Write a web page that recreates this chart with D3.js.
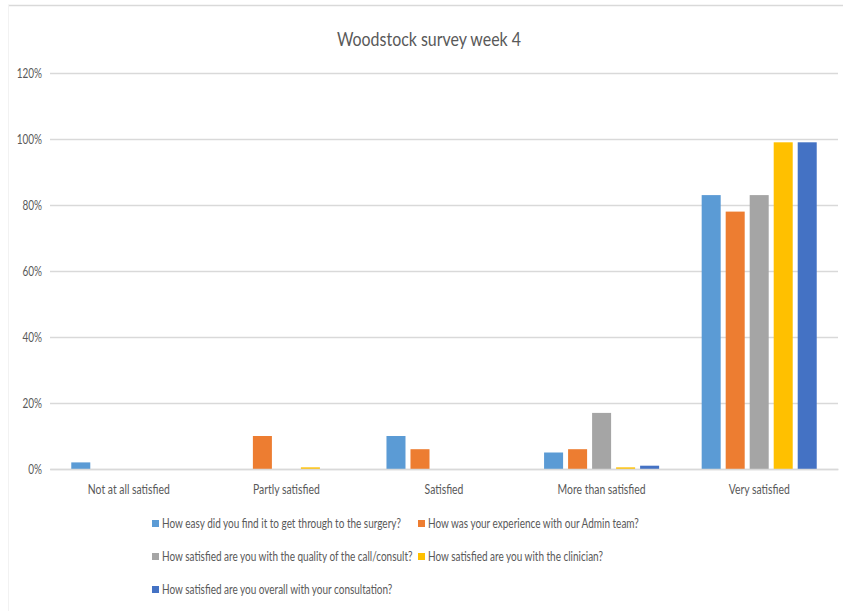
<!DOCTYPE html>
<html>
<head>
<meta charset="utf-8">
<script src="https://cdn.jsdelivr.net/npm/d3@7"></script>
<style>
  html, body { margin: 0; padding: 0; background: #fff; }
  svg { display: block; }
  text { font-family: Lato, Roboto, "Open Sans", sans-serif; fill: #595959; }
</style>
</head>
<body>
<svg id="chart" width="843" height="611"></svg>
<script>
// Survey responses by satisfaction level (percent of respondents)
const categories = ["Not at all satisfied", "Partly satisfied", "Satisfied", "More than satisfied", "Very satisfied"];
const seriesNames = [
  "How easy did you find it to get through to the surgery?",
  "How was your experience with our Admin team?",
  "How satisfied are you with the quality of the call/consult?",
  "How satisfied are you with the clinician?",
  "How satisfied are you overall with your consultation?"
];
const gettingThrough = [2, 0, 10, 5, 83];
const adminTeam      = [0, 10, 6, 6, 78];
const callQuality    = [0, 0, 0, 17, 83];
const clinician      = [0, 0.5, 0, 0.5, 99];
const overall        = [0, 0, 0, 1, 99];
const yTicks = [0, 20, 40, 60, 80, 100, 120];
const colors = ["#5B9BD5", "#ED7D31", "#A5A5A5", "#FFC000", "#4472C4"];

const seriesValues = [gettingThrough, adminTeam, callQuality, clinician, overall];

// condense text horizontally around its anchor point (Calibri-like proportions)
function narrow(sel, k = 0.8) {
  sel.each(function () {
    const t = d3.select(this);
    const ax = +t.attr("x") || 0;
    t.attr("transform", `translate(${ax * (1 - k)},0) scale(${k},1)`);
  });
}

const svg = d3.select("#chart");

// chart frame
svg.append("line").attr("x1", 8).attr("x2", 843).attr("y1", 5.5).attr("y2", 5.5)
  .attr("stroke", "#d9d9d9").attr("stroke-width", 1.5);
svg.append("line").attr("x1", 8.5).attr("x2", 8.5).attr("y1", 5).attr("y2", 611)
  .attr("stroke", "#f2f2f2").attr("stroke-width", 1);

// title
svg.append("text").attr("x", 429).attr("y", 46).attr("text-anchor", "middle")
  .style("font-size", "19px").text("Woodstock survey week 4").call(narrow, 0.84);

const plotLeft = 50, plotRight = 838, plotTop = 73, plotBottom = 469;

const x0 = d3.scaleBand().domain(categories).range([plotLeft, plotRight]).paddingInner(0.27).paddingOuter(0.135);
const x1 = d3.scaleBand().domain(d3.range(seriesNames.length)).range([0, x0.bandwidth()]).paddingInner(0.208);
const y = d3.scaleLinear().domain([0, 120]).range([plotBottom, plotTop]);

// gridlines and y labels
const yAxis = d3.axisLeft(y).tickValues(yTicks).tickSize(-(plotRight - plotLeft)).tickPadding(8)
  .tickFormat(d => d + "%");
const gy = svg.append("g").attr("transform", `translate(${plotLeft},0)`).call(yAxis);
gy.select(".domain").remove();
gy.selectAll(".tick line").attr("stroke", "#d9d9d9").attr("stroke-width", 1.3);
gy.selectAll(".tick text").style("font-size", "12.5px").attr("fill", "#595959")
  .style("font-family", "Lato, Roboto, sans-serif").call(narrow);

// bars
categories.forEach((cat, ci) => {
  const g = svg.append("g").attr("transform", `translate(${x0(cat)},0)`);
  seriesValues.forEach((vals, si) => {
    const v = vals[ci];
    if (v <= 0) return;
    g.append("rect")
      .attr("x", x1(si)).attr("width", x1.bandwidth())
      .attr("y", y(v)).attr("height", y(0) - y(v))
      .attr("fill", colors[si]);
  });
});

// category axis
const xAxis = d3.axisBottom(x0).tickSize(0).tickPadding(16);
const gx = svg.append("g").attr("transform", `translate(0,${plotBottom})`).call(xAxis);
gx.select(".domain").attr("stroke", "#d9d9d9").attr("stroke-width", 1.3);
gx.selectAll(".tick text").style("font-size", "13px").attr("fill", "#595959")
  .style("font-family", "Lato, Roboto, sans-serif").call(narrow);

// legend
const legendPos = [[152, 524], [418, 524], [152, 557], [418, 557], [152, 590]];
seriesNames.forEach((name, i) => {
  const [lx, ly] = legendPos[i];
  svg.append("rect").attr("x", lx).attr("y", ly - 4).attr("width", 7).attr("height", 7).attr("fill", colors[i]);
  svg.append("text").attr("x", lx + 10).attr("y", ly + 4).style("font-size", "12.5px").text(name).call(narrow);
});
</script>
</body>
</html>
